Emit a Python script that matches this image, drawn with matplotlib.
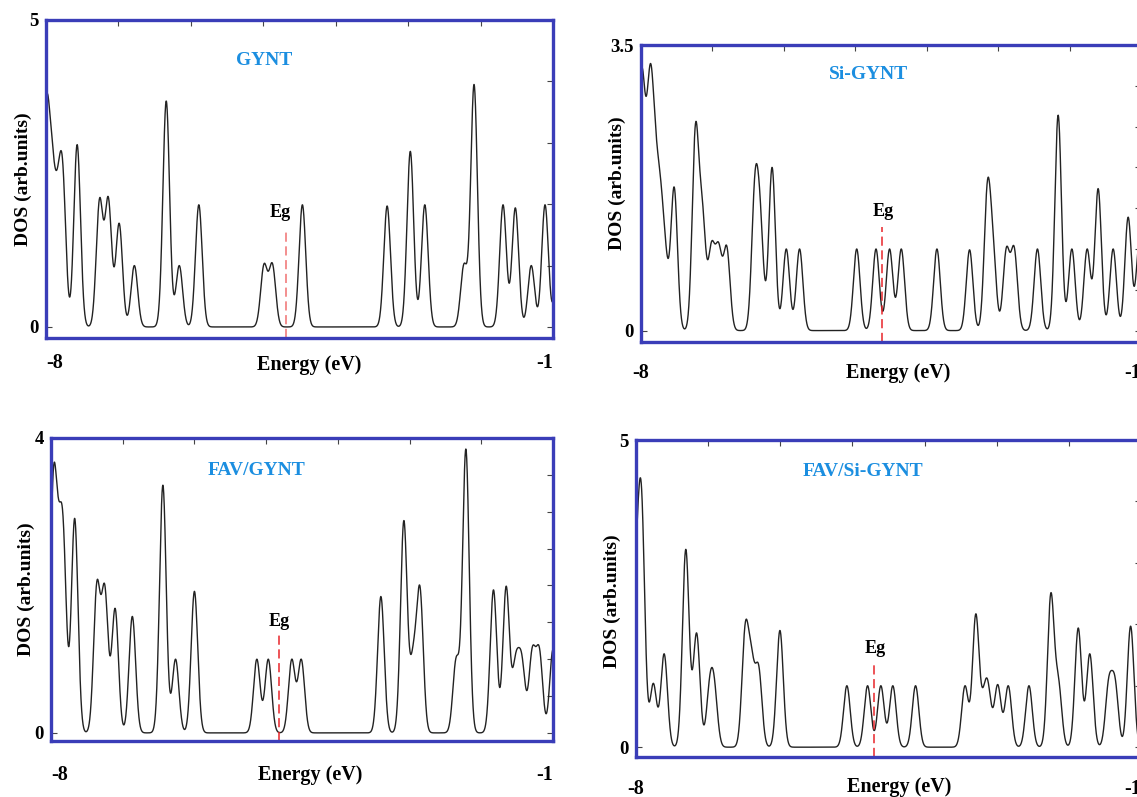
import numpy as np
import matplotlib
matplotlib.use("Agg")
from matplotlib import pyplot as plt

plt.rcParams["font.family"] = ["Liberation Serif", "DejaVu Serif"]
plt.rcParams["font.weight"] = "bold"

titles = ["GYNT", "Si-GYNT", "FAV/GYNT", "FAV/Si-GYNT"]
y_top = [5, 3.5, 4, 5]
y_top_labels = ["5", "3.5", "4", "5"]
y_step = [1, 0.5, 0.5, 1]
eg_energy = [-4.68, -4.62, -4.82, -4.70]

# peak energies (eV) and heights
gynt_e = [-8.0, -7.92, -7.84, -7.77, -7.57, -7.26, -7.14, -6.99, -6.78, -6.34, -6.16,
          -5.89, -4.99, -4.875, -4.46, -3.29, -2.97, -2.77, -2.23, -2.09, -1.69,
          -1.52, -1.30, -1.11, -0.93]
gynt_h = [3.65, 3.1, 2.6, 2.7, 2.97, 2.1, 2.12, 1.69, 1.0, 3.68, 1.0,
          1.99, 1.03, 1.04, 1.99, 1.97, 2.86, 1.99, 1.03, 3.95, 1.99,
          1.94, 1.0, 1.99, 1.0]

si_gynt_e = [-8.0, -7.94, -7.87, -7.80, -7.73, -7.66, -7.536, -7.237, -7.14, -7.013, -6.913, -6.80,
             -6.405, -6.33, -6.165, -5.966, -5.78, -4.98, -4.71, -4.52, -4.356, -3.857,
             -3.40, -3.15, -3.07, -2.885, -2.776, -2.45, -2.16, -1.968, -1.754, -1.60,
             -1.39, -1.18, -1.02]
si_gynt_h = [3.10, 2.9, 3.27, 2.55, 1.9, 1.15, 1.76, 2.54, 1.6, 1.09, 1.08, 1.04,
             1.93, 1.6, 2.0, 1.0, 1.0, 1.0, 1.0, 1.0, 1.0, 1.0,
             0.99, 1.84, 1.2, 1.02, 1.03, 1.0, 2.64, 1.0, 1.0, 1.74,
             1.0, 1.39, 1.1]

fav_gynt_e = [-7.97, -7.90, -7.83, -7.67, -7.36, -7.25, -7.106, -6.866, -6.44, -6.263, -6.0,
              -5.13, -4.97, -4.643, -4.51, -3.40, -3.08, -2.95, -2.855, -2.35, -2.215,
              -1.83, -1.653, -1.52, -1.434, -1.29, -1.19, -1.0]
fav_gynt_h = [3.53, 3.2, 2.9, 2.91, 2.06, 2.01, 1.69, 1.58, 3.36, 1.0, 1.92,
              1.0, 1.0, 1.0, 1.0, 1.85, 2.88, 1.2, 1.99, 1.03, 3.85,
              1.94, 1.99, 1.08, 1.06, 1.16, 1.16, 1.13]

fav_si_gynt_e = [-8.0, -7.923, -7.76, -7.61, -7.31, -7.16, -6.98, -6.915, -6.486, -6.40,
                 -6.30, -6.005, -5.077, -4.79, -4.606, -4.44, -4.125, -3.44, -3.29, -3.18,
                 -3.12, -2.986, -2.84, -2.553, -2.25, -2.144, -1.87, -1.71, -1.447, -1.36,
                 -1.144]
fav_si_gynt_h = [3.16, 4.22, 1.04, 1.52, 3.22, 1.86, 1.14, 1.14, 2.02, 1.64,
                 1.34, 1.9, 1.0, 1.0, 1.0, 1.0, 1.0, 1.0, 2.17, 1.0,
                 1.07, 1.02, 1.0, 1.0, 2.51, 1.15, 1.94, 1.52, 1.14, 1.14,
                 1.97]

peak_e = [gynt_e, si_gynt_e, fav_gynt_e, fav_si_gynt_e]
peak_h = [gynt_h, si_gynt_h, fav_gynt_h, fav_si_gynt_h]

SIGMA = 0.046
energy = np.linspace(-8.3, -0.7, 4000)


def dos_curve(centres, heights):
    # gaussian broadening, amplitudes fitted so the curve hits the read heights
    c = np.array(centres)
    h = np.array(heights)
    overlap = np.exp(-(c[:, None] - c[None, :]) ** 2 / (2 * SIGMA ** 2))
    amp = np.clip(np.linalg.lstsq(overlap, h, rcond=None)[0], 0, None)
    return amp @ np.exp(-(c[:, None] - energy[None, :]) ** 2 / (2 * SIGMA ** 2))


W, H = 1137, 797
fig = plt.figure(figsize=(W / 100, H / 100), dpi=100)

# frame boxes in pixels: left, top, right, bottom
boxes = [(46, 20, 553, 338), (641, 45, 1141, 342), (51, 438, 553, 741), (636, 440, 1141, 757)]
y_bottom = [0.18, 0.14, 0.11, 0.16]
x_pad = [11, 15, 17, 16]
left_label_ha = ["left", "center", "left", "center"]
title_pos = [(0.43, 0.874), (0.456, 0.90), (0.41, 0.894), (0.45, 0.90)]
ylabel_pos = [(-0.045, 0.5), (-0.047, 0.535), (-0.05, 0.5), (-0.047, 0.49)]
xlabel_pos = [(0.52, -0.085), (0.515, -0.104), (0.516, -0.112), (0.522, -0.095)]
eg_top = [1.6, 1.27, 1.36, 1.40]
eg_text = [(-4.77, 1.86), (-4.605, 1.46), (-4.82, 1.51), (-4.69, 1.6)]
eg_color = ["#f07070", "#e8242a", "#e8242a", "#e8242a"]

for i, (l, t, r, b) in enumerate(boxes):
    ax = fig.add_axes([l / W, 1 - b / H, (r - l) / W, (b - t) / H])
    ax.plot(energy, dos_curve(peak_e[i], peak_h[i]), color="#222222", lw=1.0)
    ax.set_xlim(-8, -1)
    ax.set_ylim(-y_bottom[i], y_top[i])

    for s in ax.spines.values():
        s.set_color("#3a3db8")
        s.set_linewidth(2.4)

    ax.set_xticks([-8, -1])
    xlabels = ax.set_xticklabels(["-8", "-1"])
    xlabels[0].set_ha(left_label_ha[i])
    xlabels[1].set_ha("right")
    ax.set_xticks(np.arange(-7, -1), minor=True)
    ax.set_yticks([0, y_top[i]])
    ax.set_yticklabels(["0", y_top_labels[i]])
    ax.set_yticks(np.arange(y_step[i], y_top[i], y_step[i]), minor=True)

    ax.tick_params(axis="x", which="major", length=0, pad=x_pad[i], labelsize=14.5)
    ax.tick_params(axis="x", which="minor", direction="in", bottom=False, top=True,
                   length=4, width=0.8, color="#444444")
    ax.tick_params(axis="y", which="major", direction="in", left=True, right=True,
                   length=4, width=0.8, color="#444444", pad=5, labelsize=13.5)
    ax.tick_params(axis="y", which="minor", direction="in", left=False, right=True,
                   length=4, width=0.8, color="#444444")

    ax.plot([eg_energy[i], eg_energy[i]], [-y_bottom[i], eg_top[i]], ls=(0, (6, 3)),
            color=eg_color[i], lw=1.1)
    ax.text(eg_text[i][0], eg_text[i][1], "Eg", ha="center", va="center", fontsize=13)

    ax.text(title_pos[i][0], title_pos[i][1], titles[i], transform=ax.transAxes,
            ha="center", va="center", fontsize=14, color="#1b8ee0")
    ax.text(ylabel_pos[i][0], ylabel_pos[i][1], "DOS (arb.units)", transform=ax.transAxes,
            ha="center", va="center", rotation=90, fontsize=14)
    ax.text(xlabel_pos[i][0], xlabel_pos[i][1], "Energy (eV)", transform=ax.transAxes,
            ha="center", va="center", fontsize=14.5)

fig.savefig("out.png", dpi=100)
